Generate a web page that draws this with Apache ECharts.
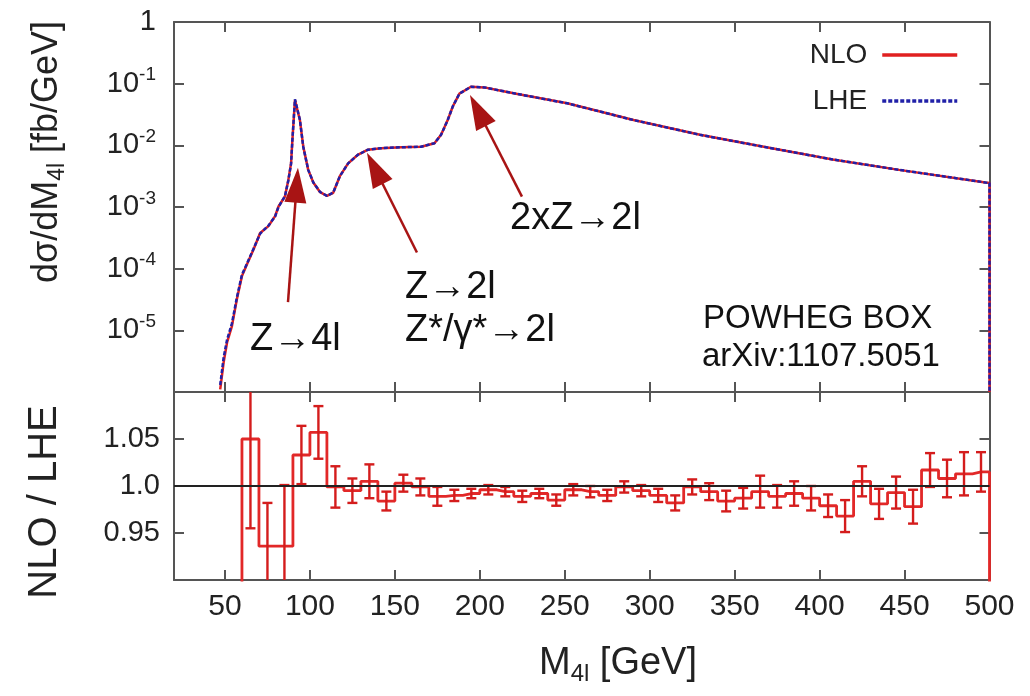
<!DOCTYPE html>
<html>
<head>
<meta charset="utf-8">
<title>M4l spectrum, NLO vs LHE</title>
<script src="https://cdn.jsdelivr.net/npm/echarts@6/dist/echarts.min.js"></script>
<style>
  html, body { margin: 0; padding: 0; background: #fff; }
  #chart { width: 1030px; height: 696px; }
</style>
</head>
<body>
<div id="chart"></div>
<script>
// top panel: d sigma / d M4l  [fb/GeV]
const massPoints = [47.2, 49.2, 51.2, 54.1, 57.0, 60.0, 62.9, 66.8, 70.7, 75.6, 79.5, 81.5, 85.3, 87.3, 88.9,
  89.7, 91.2, 94.1, 96.1, 99.0, 102.0, 106.0, 110.0, 113.7, 117.6, 122.5, 128.4, 134.2, 142.0, 153.8, 165.5,
  173.3, 177.2, 181.1, 184.1, 188.0, 194.8, 202.6, 212.4, 222.2, 251.5, 290.5, 329.6, 368.7, 407.7, 446.8,
  497.6, 500, 500]
const nloXsec = [1.1e-6, 3.0e-6, 6.3e-6, 1.17e-5, 3.2e-5, 7.6e-5, 1.17e-4, 2.04e-4, 3.8e-4, 4.9e-4, 7.1e-4,
  1.02e-3, 1.48e-3, 2.75e-3, 5.1e-3, 1.23e-2, 5.4e-2, 2.57e-2, 9.5e-3, 4.0e-3, 2.5e-3, 1.74e-3, 1.51e-3,
  1.70e-3, 3.16e-3, 5.1e-3, 7.1e-3, 8.5e-3, 9.0e-3, 9.3e-3, 9.5e-3, 1.08e-2, 1.48e-2, 2.57e-2, 4.27e-2,
  6.9e-2, 8.9e-2, 8.7e-2, 7.7e-2, 6.8e-2, 4.8e-2, 2.57e-2, 1.48e-2, 9.3e-3, 5.9e-3, 4.0e-3, 2.5e-3,
  2.45e-3, 1e-6]
const lheXsec = [1.3e-6, 3.6e-6, 7.0e-6, 1.3e-5, 3.4e-5, 8.0e-5, 1.2e-4, 2.1e-4, 3.7e-4, 5.0e-4, 7.0e-4,
  1.0e-3, 1.5e-3, 2.7e-3, 5.0e-3, 1.25e-2, 5.6e-2, 2.6e-2, 9.4e-3, 4.0e-3, 2.5e-3, 1.75e-3, 1.52e-3,
  1.71e-3, 3.15e-3, 5.1e-3, 7.1e-3, 8.5e-3, 9.0e-3, 9.3e-3, 9.5e-3, 1.08e-2, 1.48e-2, 2.57e-2, 4.28e-2,
  6.9e-2, 8.9e-2, 8.7e-2, 7.7e-2, 6.8e-2, 4.8e-2, 2.57e-2, 1.48e-2, 9.3e-3, 5.9e-3, 4.0e-3, 2.5e-3,
  2.45e-3, 1e-6]

// bottom panel: NLO / LHE in 10 GeV bins
const ratioBinCenters = [65, 75, 85, 95, 105, 115, 125, 135, 145, 155, 165, 175, 185, 195, 205, 215, 225,
  235, 245, 255, 265, 275, 285, 295, 305, 315, 325, 335, 345, 355, 365, 375, 385, 395, 405, 415, 425, 435,
  445, 455, 465, 475, 485, 495]
const ratioValues = [1.050, 0.936, 0.936, 1.033, 1.057, 0.999, 0.995, 1.005, 0.984, 1.003, 0.999, 0.989,
  0.990, 0.992, 0.996, 0.994, 0.989, 0.992, 0.985, 0.996, 0.994, 0.990, 0.999, 0.995, 0.990, 0.982, 0.999,
  0.994, 0.984, 0.987, 0.994, 0.989, 0.992, 0.987, 0.979, 0.968, 1.005, 0.981, 0.993, 0.978, 1.017, 1.008,
  1.013, 1.015]
const ratioErrors = [0.095, 0.046, 0.065, 0.031, 0.028, 0.022, 0.013, 0.018, 0.010, 0.009, 0.009, 0.010,
  0.006, 0.005, 0.005, 0.005, 0.006, 0.005, 0.006, 0.006, 0.006, 0.006, 0.006, 0.006, 0.007, 0.008, 0.008,
  0.009, 0.011, 0.011, 0.017, 0.012, 0.013, 0.013, 0.012, 0.017, 0.016, 0.016, 0.017, 0.018, 0.018, 0.020,
  0.023, 0.021]
const ratioBinWidth = 10
const ratioBaseline = 0

const xTickValues = [50, 100, 150, 200, 250, 300, 350, 400, 450, 500]
const ratioTickValues = [0.95, 1.0, 1.05]

// annotation arrows, data coordinates (tail -> head)
const arrowTails = [[87.1, 2.86e-5], [163.0, 1.83e-4], [224.8, 1.47e-3]]
const arrowHeads = [[92.2, 2.26e-3], [138.2, 4.24e-3], [198.9, 0.0367]]

const FONT = '"Liberation Sans", Arial, Helvetica, sans-serif'
const FRAME = { lineStyle: { color: '#555', width: 2 }, onZero: false }

const xAxisBase = (gridIndex, position, withLabels) => ({
  type: 'value',
  gridIndex,
  position,
  min: 20,
  max: 500,
  axisLine: FRAME,
  axisTick: { inside: true, length: 10, customValues: xTickValues, lineStyle: { color: '#555', width: 2 } },
  axisLabel: withLabels
    ? { customValues: xTickValues, fontSize: 30, color: '#222', fontFamily: FONT, margin: 12 }
    : { show: false },
  splitLine: { show: false }
})

const logLabel = (value) => {
  const p = Math.round(Math.log10(value))
  if (p === 0) return '1'
  if (p < -5) return ''
  return '10{sup|' + p + '}'
}

const chart = echarts.init(document.getElementById('chart'))

const ratioStepData = [[ratioBinCenters[0] - ratioBinWidth, ratioBaseline]]
  .concat(ratioBinCenters.map((x, i) => [x, ratioValues[i]]))
  .concat([[ratioBinCenters[ratioBinCenters.length - 1] + ratioBinWidth, ratioBaseline]])

chart.setOption({
  animation: false,
  backgroundColor: '#fff',
  textStyle: { fontFamily: FONT },
  grid: [
    { left: 174, top: 22, right: 40.5, height: 370 },
    { left: 174, top: 392, right: 40.5, height: 188 }
  ],
  legend: {
    data: ['NLO', 'LHE'],
    orient: 'vertical',
    right: 66,
    top: 36,
    align: 'right',
    itemWidth: 75,
    itemHeight: 14,
    itemGap: 18,
    itemStyle: { opacity: 0 },
    lineStyle: { width: 3.5 },
    textStyle: { fontSize: 28, color: '#222', fontFamily: FONT, padding: [0, 10, 0, 0] }
  },
  xAxis: [
    xAxisBase(0, 'bottom', false),
    xAxisBase(0, 'top', false),
    xAxisBase(1, 'bottom', true),
    xAxisBase(1, 'top', false)
  ],
  yAxis: [
    {
      type: 'log', gridIndex: 0, position: 'left', min: 1e-6, max: 1, logBase: 10,
      axisLine: FRAME,
      axisTick: { inside: true, length: 10, lineStyle: { color: '#555', width: 2 } },
      axisLabel: {
        formatter: logLabel, fontSize: 29, color: '#222', fontFamily: FONT, margin: 18, lineHeight: 36,
        rich: { sup: { fontSize: 19, lineHeight: 18, verticalAlign: 'top' } }
      },
      splitLine: { show: false }
    },
    {
      type: 'log', gridIndex: 0, position: 'right', min: 1e-6, max: 1, logBase: 10,
      axisLine: FRAME,
      axisTick: { inside: true, length: 10, lineStyle: { color: '#555', width: 2 } },
      axisLabel: { show: false },
      splitLine: { show: false }
    },
    {
      type: 'value', gridIndex: 1, position: 'left', min: 0.9, max: 1.1,
      axisLine: FRAME,
      axisTick: { inside: true, length: 10, customValues: ratioTickValues, lineStyle: { color: '#555', width: 2 } },
      axisLabel: {
        customValues: ratioTickValues,
        formatter: (v) => (v === 1 ? '1.0' : v.toFixed(2)),
        fontSize: 29, color: '#222', fontFamily: FONT, margin: 14
      },
      splitLine: { show: false }
    },
    {
      type: 'value', gridIndex: 1, position: 'right', min: 0.9, max: 1.1,
      axisLine: FRAME,
      axisTick: { inside: true, length: 10, customValues: ratioTickValues, lineStyle: { color: '#555', width: 2 } },
      axisLabel: { show: false },
      splitLine: { show: false }
    }
  ],
  series: [
    {
      name: 'NLO',
      type: 'line',
      xAxisIndex: 0,
      yAxisIndex: 0,
      data: massPoints.map((x, i) => [x, nloXsec[i]]),
      symbol: 'none',
      lineStyle: { color: '#e02020', width: 2.5 },
      itemStyle: { color: '#e02020' },
      z: 2
    },
    {
      name: 'LHE',
      type: 'line',
      xAxisIndex: 0,
      yAxisIndex: 0,
      data: massPoints.map((x, i) => [x, lheXsec[i]]),
      symbol: 'none',
      lineStyle: { color: '#2020a8', width: 2.5, type: [4, 2] },
      itemStyle: { color: '#2020a8' },
      z: 3
    },
    {
      name: 'arrows',
      type: 'line',
      xAxisIndex: 0,
      yAxisIndex: 0,
      data: [],
      markLine: {
        silent: true,
        animation: false,
        label: { show: false },
        lineStyle: { color: '#a81414', width: 2.5, type: 'solid' },
        data: arrowTails.map((tail, i) => [
          { coord: tail, symbol: 'none' },
          { coord: arrowHeads[i], symbol: 'triangle', symbolSize: [22, 35] }
        ])
      },
      z: 4
    },
    {
      name: 'ratio',
      type: 'line',
      xAxisIndex: 2,
      yAxisIndex: 2,
      step: 'middle',
      data: ratioStepData,
      symbol: 'none',
      lineStyle: { color: '#e22828', width: 2.8 },
      markLine: {
        silent: true,
        symbol: 'none',
        label: { show: false },
        lineStyle: { color: '#222', width: 2, type: 'solid' },
        data: [{ yAxis: 1 }]
      },
      z: 2
    },
    {
      name: 'ratio errors',
      type: 'custom',
      xAxisIndex: 2,
      yAxisIndex: 2,
      clip: true,
      data: ratioBinCenters.map((x, i) => [x, ratioValues[i], ratioErrors[i]]),
      encode: { x: 0, y: 1 },
      renderItem: (params, api) => {
        const x = api.value(0)
        const v = api.value(1)
        const e = api.value(2)
        const top = api.coord([x, v + e])
        const bot = api.coord([x, v - e])
        const cap = 5
        const style = { stroke: '#d41c1c', lineWidth: 2.4 }
        return {
          type: 'group',
          children: [
            { type: 'line', shape: { x1: top[0], y1: top[1], x2: bot[0], y2: bot[1] }, style },
            { type: 'line', shape: { x1: top[0] - cap, y1: top[1], x2: top[0] + cap, y2: top[1] }, style },
            { type: 'line', shape: { x1: bot[0] - cap, y1: bot[1], x2: bot[0] + cap, y2: bot[1] }, style }
          ]
        }
      },
      z: 3
    }
  ],
  graphic: [
    {
      type: 'text', x: 47, y: 152, rotation: Math.PI / 2,
      style: {
        text: 'dσ/dM{sub|4l} [fb/GeV]', fontSize: 36, fontFamily: FONT, fill: '#222',
        align: 'center', verticalAlign: 'middle', lineHeight: 44,
        rich: { sub: { fontSize: 23, lineHeight: 24, verticalAlign: 'bottom' } }
      }
    },
    {
      type: 'text', x: 45, y: 502, rotation: Math.PI / 2,
      style: { text: 'NLO / LHE', fontSize: 40, fontFamily: FONT, fill: '#222', align: 'center', verticalAlign: 'middle' }
    },
    {
      type: 'text', x: 618, y: 664,
      style: {
        text: 'M{sub|4l} [GeV]', fontSize: 38, fontFamily: FONT, fill: '#222',
        align: 'center', verticalAlign: 'middle', lineHeight: 44,
        rich: { sub: { fontSize: 24, lineHeight: 24, verticalAlign: 'bottom' } }
      }
    },
    { type: 'text', x: 250, y: 340, style: { text: 'Z→4l', fontSize: 38, fontFamily: FONT, fill: '#111', verticalAlign: 'middle' } },
    { type: 'text', x: 405, y: 288, style: { text: 'Z→2l', fontSize: 38, fontFamily: FONT, fill: '#111', verticalAlign: 'middle' } },
    { type: 'text', x: 405, y: 331, style: { text: 'Z*/γ*→2l', fontSize: 38, fontFamily: FONT, fill: '#111', verticalAlign: 'middle' } },
    { type: 'text', x: 510, y: 219, style: { text: '2xZ→2l', fontSize: 38, fontFamily: FONT, fill: '#111', verticalAlign: 'middle' } },
    { type: 'text', x: 703, y: 319, style: { text: 'POWHEG BOX', fontSize: 33, fontFamily: FONT, fill: '#111', verticalAlign: 'middle' } },
    { type: 'text', x: 702, y: 357, style: { text: 'arXiv:1107.5051', fontSize: 33, fontFamily: FONT, fill: '#111', verticalAlign: 'middle' } }
  ]
})
</script>
</body>
</html>
